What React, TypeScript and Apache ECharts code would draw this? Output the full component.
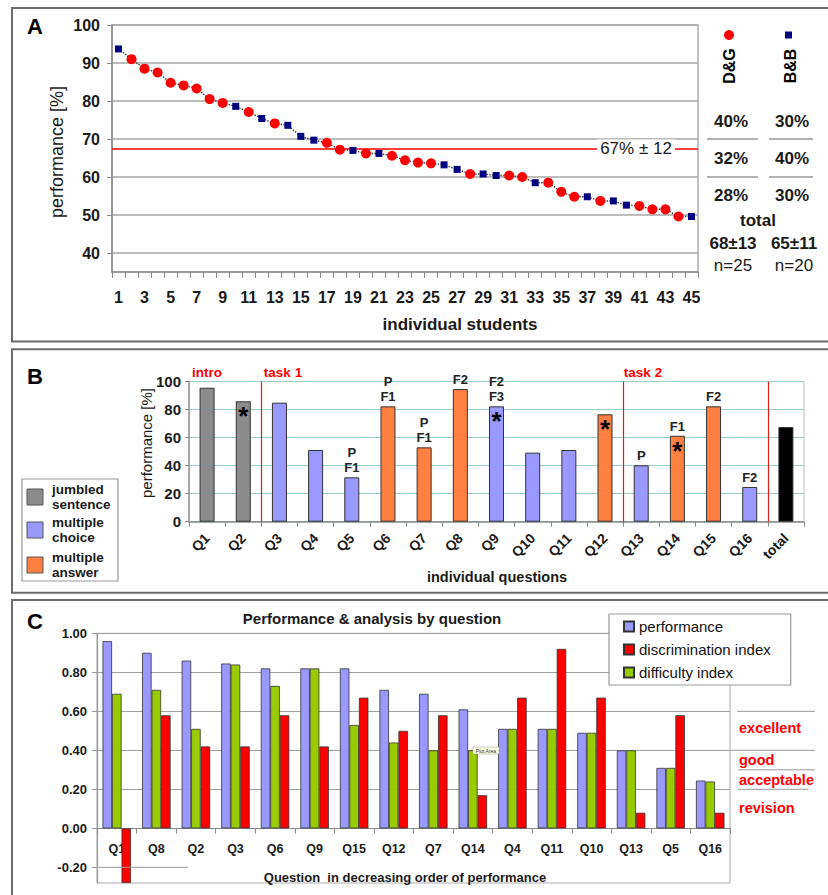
import React, { useEffect, useRef } from 'react';
import * as echarts from 'echarts';

// ---------- Panel A data ----------
const studentScores = [
  93.7, 91.0, 88.5, 87.5, 84.8, 84.1, 83.3, 80.5, 79.5, 78.6, 77.1, 75.4, 74.1, 73.6, 70.7,
  69.7, 69.0, 67.2, 67.0, 66.2, 66.2, 65.6, 64.4, 63.8, 63.6, 63.2, 62.0, 60.8, 60.8, 60.4,
  60.4, 60.0, 58.5, 58.5, 56.1, 54.8, 54.8, 53.7, 53.7, 52.6, 52.4, 51.5, 51.5, 49.6, 49.6,
];
const studentGroup = [
  'B', 'D', 'D', 'D', 'D', 'D', 'D', 'D', 'D', 'B', 'D', 'B', 'D', 'B', 'B',
  'B', 'D', 'D', 'B', 'D', 'B', 'D', 'D', 'D', 'D', 'B', 'B', 'D', 'B', 'B',
  'D', 'D', 'B', 'D', 'D', 'D', 'B', 'D', 'B', 'B', 'D', 'D', 'D', 'D', 'B',
];
const meanScore = 67.5;
const meanLabel = '67% ± 12';
const scoreTicks = [40, 50, 60, 70, 80, 90, 100];
const groupNames = ['D&G', 'B&B'];
const groupShares = [['40%', '30%'], ['32%', '40%'], ['28%', '30%']];
const groupTotals = ['68±13', '65±11'];
const groupCounts = ['n=25', 'n=20'];

// ---------- Panel B data ----------
const questions = ['Q1', 'Q2', 'Q3', 'Q4', 'Q5', 'Q6', 'Q7', 'Q8', 'Q9', 'Q10', 'Q11', 'Q12', 'Q13', 'Q14', 'Q15', 'Q16', 'total'];
const questionPerf = [95.7, 86.0, 85.0, 51.2, 31.7, 82.4, 53.1, 94.8, 82.4, 49.3, 51.2, 76.7, 40.3, 61.4, 82.4, 24.8, 67.6];
const questionType = ['jumbled', 'jumbled', 'choice', 'choice', 'choice', 'answer', 'answer', 'answer', 'choice', 'choice', 'choice', 'answer', 'choice', 'answer', 'answer', 'choice', 'total'];
const questionNotes = ['', '', '', '', 'P\nF1', 'P\nF1', 'P\nF1', 'F2', 'F2\nF3', '', '', '', 'P', 'F1', 'F2', 'F2', ''];
const questionStar = [false, true, false, false, false, false, false, false, true, false, false, true, false, true, false, false, false];
const taskBoundaries = [2, 12, 16];
const taskNames = ['intro', 'task 1', 'task 2'];
const legendBNames = ['jumbled\nsentence', 'multiple\nchoice', 'multiple\nanswer'];

// ---------- Panel C data ----------
const rankedQuestions = ['Q1', 'Q8', 'Q2', 'Q3', 'Q6', 'Q9', 'Q15', 'Q12', 'Q7', 'Q14', 'Q4', 'Q11', 'Q10', 'Q13', 'Q5', 'Q16'];
const performanceIdx = [0.96, 0.90, 0.86, 0.845, 0.82, 0.82, 0.82, 0.71, 0.69, 0.61, 0.51, 0.51, 0.49, 0.40, 0.31, 0.245];
const difficultyIdx = [0.69, 0.71, 0.51, 0.84, 0.73, 0.82, 0.53, 0.44, 0.40, 0.40, 0.51, 0.51, 0.49, 0.40, 0.31, 0.24];
const discriminationIdx = [-0.28, 0.58, 0.42, 0.42, 0.58, 0.42, 0.67, 0.50, 0.58, 0.17, 0.67, 0.92, 0.67, 0.08, 0.58, 0.08];
const indexTicks = [-0.2, 0, 0.2, 0.4, 0.6, 0.8, 1.0];
const indexMin = -0.28;
const ratingLabels = ['excellent', 'good', 'acceptable', 'revision'];
const ratingBounds = [0.6, 0.4, 0.3, 0.2];

// ---------- styling ----------
const FONT = '"Liberation Sans", Arial, Helvetica, sans-serif';
const RED = '#ff0000';
const NAVY = '#000080';
const typeColors: Record<string, string> = { jumbled: '#8c8c8c', choice: '#9999ff', answer: '#ff8040', total: '#000000' };

const GA = { left: 112, top: 25, width: 586, height: 247 };
const GAov = { left: 112, top: 25, width: 586, height: 228 };
const GB = { left: 189, top: 381.7, width: 615, height: 140 };
const GC = { left: 97, top: 633.3, width: 633, height: 249.7 };
const GCov = { left: 97, top: 633.3, width: 633, height: 195 };
const C_UNIT = 195;
const yC = (v: number) => GC.top + (1 - v) * C_UNIT;

function T(x: number, y: number, text: string, size: number, o: any = {}) {
  const align = o.align || 'center';
  return {
    type: 'text', x, y, rotation: o.rotation || 0, z: 100, silent: true,
    style: {
      text, fontSize: size, fontWeight: o.bold ? 'bold' : 'normal', fontFamily: FONT,
      fill: o.color || '#1a1a1a', align, verticalAlign: 'middle', textAlign: align, textVerticalAlign: 'middle',
      lineHeight: o.lineHeight, backgroundColor: o.bg, padding: o.padding,
    },
  };
}
function L(x1: number, y1: number, x2: number, y2: number, color = '#999', w = 1.5) {
  return { type: 'line', z: 90, silent: true, shape: { x1, y1, x2, y2 }, style: { stroke: color, lineWidth: w } };
}
function R(x: number, y: number, w: number, h: number, fill: string, stroke: string, lw = 1, z = 95) {
  return { type: 'rect', z, silent: true, shape: { x, y, width: w, height: h }, style: { fill, stroke, lineWidth: lw } };
}

function buildOption() {
  const graphics: any[] = [];
  // panel boxes
  graphics.push(R(12, 8, 830, 333.5, 'none', '#6b6b6b', 2, 1));
  graphics.push(R(12, 349.3, 830, 243.4, 'none', '#6b6b6b', 2, 1));
  graphics.push(R(12, 600, 830, 320, 'none', '#6b6b6b', 2, 1));
  graphics.push(T(35, 26, 'A', 22, { bold: true, color: '#000' }));
  graphics.push(T(35, 376, 'B', 22, { bold: true, color: '#000' }));
  graphics.push(T(35, 621, 'C', 22, { bold: true, color: '#000' }));

  // Panel A texts
  graphics.push(T(57, 152, 'performance [%]', 18, { rotation: Math.PI / 2 }));
  graphics.push(T(460, 324, 'individual students', 17, { bold: true }));
  graphics.push(T(636, 148, meanLabel, 17, { bg: '#fff', padding: [0, 3] }));
  const colX = [731, 792];
  graphics.push({ type: 'circle', z: 100, shape: { cx: 729, cy: 35, r: 5 }, style: { fill: RED } });
  graphics.push({ type: 'rect', z: 100, shape: { x: 785, y: 31.5, width: 7, height: 7 }, style: { fill: NAVY } });
  groupNames.forEach((g, i) => graphics.push(T(colX[i] - 1.5, 66, g, 16, { bold: true, rotation: Math.PI / 2, color: '#000' })));
  groupShares.forEach((row, r) => {
    row.forEach((s, i) => graphics.push(T(colX[i], 121 + r * 37, s, 17, { bold: true })));
  });
  [139, 177].forEach((y) => {
    graphics.push(L(707, y, 758, y, '#999', 1.5));
    graphics.push(L(769, y, 813, y, '#999', 1.5));
  });
  graphics.push(T(758, 220, 'total', 17, { bold: true }));
  groupTotals.forEach((s, i) => graphics.push(T(colX[i] + 2, 243, s, 17, { bold: true })));
  groupCounts.forEach((s, i) => graphics.push(T(colX[i] + 2, 265, s, 17)));

  // Panel B texts
  const taskX = [207, 283, 643];
  taskNames.forEach((n, i) => graphics.push(T(taskX[i], 372, n, 13.5, { bold: true, color: RED })));
  graphics.push(T(146, 443, 'performance [%]', 15, { rotation: Math.PI / 2 }));
  graphics.push(T(497, 577, 'individual questions', 14.5, { bold: true }));
  graphics.push(L(804, 381.7, 804, 521.7, '#bbb', 1));
  graphics.push(R(22, 479, 96, 102, '#fff', '#999', 1.2, 80));
  const legendColors = [typeColors.jumbled, typeColors.choice, typeColors.answer];
  const legendY = [497, 530, 565];
  legendBNames.forEach((n, i) => {
    graphics.push(R(27, legendY[i] - 8, 16, 16, legendColors[i], '#555', 1));
    graphics.push(T(52, legendY[i], n, 13.5, { bold: true, align: 'left', lineHeight: 14.5 }));
  });

  // Panel C texts
  graphics.push(T(372, 618, 'Performance & analysis by question', 15, { bold: true }));
  graphics.push(T(405, 877, 'Question  in decreasing order of performance', 13, { bold: true }));
  const ratingY = [728, 760, 780, 808];
  ratingLabels.forEach((r, i) => graphics.push(T(739, ratingY[i], r, 14.5, { bold: true, color: RED, align: 'left' })));
  graphics.push(L(737, yC(ratingBounds[0]), 815, yC(ratingBounds[0]), '#999', 1));
  graphics.push(L(730, yC(ratingBounds[1]), 815, yC(ratingBounds[1]), '#999', 1));
  graphics.push(L(738, yC(ratingBounds[2]), 815, yC(ratingBounds[2]), '#999', 1));
  graphics.push(L(738, yC(ratingBounds[3]), 808, yC(ratingBounds[3]), '#999', 1));
  graphics.push(L(97, yC(-0.2), 188, yC(-0.2), '#999', 1));
  graphics.push(R(473, 747, 26, 7, '#ffffe1', '#999', 0.5, 100));
  graphics.push(T(486, 750.6, 'Plot Area', 5, { color: '#333' }));

  const axisLineGray = { show: true, lineStyle: { color: '#888', width: 1.5 } };
  const labelBase = { fontFamily: FONT, color: '#1a1a1a', fontWeight: 'bold' };

  return {
    animation: false,
    backgroundColor: '#fff',
    textStyle: { fontFamily: FONT },
    graphic: { elements: graphics },
    legend: {
      data: ['performance', 'discrimination index', 'difficulty index'],
      left: 609, top: 614, orient: 'vertical', icon: 'rect',
      itemWidth: 10, itemHeight: 10, itemGap: 8,
      padding: [5, 20, 5, 14],
      borderColor: '#999', borderWidth: 1.2, backgroundColor: '#fff',
      textStyle: { fontSize: 15, color: '#111', fontFamily: FONT },
      selectedMode: false, z: 20,
    },
    grid: [
      { ...GA, show: true, borderColor: '#999', borderWidth: 1.2, outerBoundsMode: 'none', containLabel: false },
      { ...GB, outerBoundsMode: 'none', containLabel: false },
      { ...GC, show: true, borderColor: '#aaa', borderWidth: 1, outerBoundsMode: 'none', containLabel: false },
      { ...GCov, outerBoundsMode: 'none', containLabel: false },
      { ...GAov, outerBoundsMode: 'none', containLabel: false },
    ],
    xAxis: [
      {
        type: 'category', gridIndex: 0, data: studentScores.map((_, i) => String(i + 1)), boundaryGap: true,
        axisLine: axisLineGray,
        axisTick: { show: true, interval: 0, length: 6, lineStyle: { color: '#888' } },
        axisLabel: { ...labelBase, interval: 1, fontSize: 16, margin: 17 },
      },
      {
        type: 'category', gridIndex: 1, data: questions,
        axisLine: axisLineGray,
        axisTick: { show: true, interval: 0, length: 5, lineStyle: { color: '#888' } },
        axisLabel: { ...labelBase, interval: 0, rotate: 45, fontSize: 14, margin: 14 },
      },
      {
        type: 'category', gridIndex: 2, data: rankedQuestions, position: 'bottom',
        offset: indexMin * C_UNIT,
        axisLine: { show: true, onZero: false, lineStyle: { color: '#888', width: 1.2 } },
        axisTick: { show: true, interval: 0, length: 5, lineStyle: { color: '#888' } },
        axisLabel: { ...labelBase, interval: 0, fontSize: 12.5, margin: 14 },
      },
      { type: 'value', gridIndex: 1, min: 0, max: questions.length, show: false },
      { type: 'value', gridIndex: 3, min: 0, max: 1, show: false },
      { type: 'value', gridIndex: 4, min: 0, max: 1, show: false },
    ],
    yAxis: [
      {
        type: 'value', gridIndex: 0, min: 35, max: 100,
        axisLine: axisLineGray,
        axisTick: { show: true, customValues: scoreTicks, length: 5, lineStyle: { color: '#888' } },
        axisLabel: { ...labelBase, customValues: scoreTicks, fontSize: 16, margin: 12 },
        splitLine: { show: false },
      },
      {
        type: 'value', gridIndex: 1, min: 0, max: 100, interval: 20,
        axisLine: axisLineGray,
        axisTick: { show: true, length: 4, lineStyle: { color: '#888' } },
        axisLabel: { ...labelBase, fontSize: 15, margin: 8 },
        splitLine: { show: true, lineStyle: { color: '#99cccc', width: 1.2 } },
      },
      {
        type: 'value', gridIndex: 2, min: indexMin, max: 1.0,
        axisLine: { show: true, lineStyle: { color: '#999', width: 1.2 } },
        axisTick: { show: true, customValues: indexTicks, length: 5, lineStyle: { color: '#999' } },
        axisLabel: { ...labelBase, customValues: indexTicks, fontSize: 13, margin: 10, formatter: (v: number) => v.toFixed(2) },
        splitLine: { show: false },
      },
      {
        type: 'value', gridIndex: 3, min: 0, max: 1, interval: 0.2,
        axisLine: { show: false }, axisTick: { show: false }, axisLabel: { show: false },
        splitLine: { show: true, lineStyle: { color: '#a0a0a0', width: 1 } },
      },
      {
        type: 'value', gridIndex: 4, min: 40, max: 100, interval: 10,
        axisLine: { show: false }, axisTick: { show: false }, axisLabel: { show: false },
        splitLine: { show: true, lineStyle: { color: '#a6a6a6', width: 1.5 } },
      },
    ],
    series: [
      {
        name: 'students', type: 'line', xAxisIndex: 0, yAxisIndex: 0,
        showSymbol: true, showAllSymbol: true, z: 5,
        lineStyle: { color: '#333', width: 1.4, type: 'dotted' },
        data: studentScores.map((v, i) => (studentGroup[i] === 'D'
          ? { value: v, symbol: 'circle', symbolSize: 10, itemStyle: { color: RED } }
          : { value: v, symbol: 'rect', symbolSize: 7, itemStyle: { color: NAVY } })),
        markLine: {
          silent: true, symbol: ['none', 'none'], label: { show: false },
          lineStyle: { color: RED, width: 1.5, type: 'solid' },
          data: [{ yAxis: meanScore }],
        },
      },
      {
        name: 'question performance', type: 'bar', xAxisIndex: 1, yAxisIndex: 1,
        barWidth: 15, barGap: '-100%',
        data: questionPerf.map((v, i) => ({ value: v, itemStyle: { color: typeColors[questionType[i]], borderColor: '#333', borderWidth: 1 } })),
        label: {
          show: true, position: 'top', distance: 2, fontSize: 13, fontWeight: 'bold', lineHeight: 15, color: '#222', fontFamily: FONT,
          formatter: (p: any) => questionNotes[p.dataIndex],
        },
      },
      {
        name: 'stars', type: 'bar', xAxisIndex: 1, yAxisIndex: 1, silent: true,
        barWidth: 15, barGap: '-100%', z: 6,
        data: questionPerf,
        itemStyle: { color: 'rgba(0,0,0,0)', borderWidth: 0 },
        label: {
          show: true, position: 'insideTop', distance: 2, fontSize: 26, fontWeight: 'bold', color: '#000', fontFamily: FONT,
          formatter: (p: any) => (questionStar[p.dataIndex] ? '*' : ''),
        },
      },
      {
        name: 'tasks', type: 'line', xAxisIndex: 3, yAxisIndex: 1, silent: true,
        data: [[0, 0]], symbol: 'none', lineStyle: { width: 0, opacity: 0 },
        markLine: {
          silent: true, symbol: ['none', 'none'], label: { show: false },
          lineStyle: { color: '#e31a1a', width: 1.2, type: 'solid' },
          data: taskBoundaries.map((b) => ({ xAxis: b })),
        },
      },
      {
        name: 'performance', type: 'bar', xAxisIndex: 2, yAxisIndex: 2, barWidth: 9.5, barGap: '0%',
        data: performanceIdx, itemStyle: { color: '#9999ff', borderColor: '#333', borderWidth: 0.8 },
      },
      {
        name: 'difficulty index', type: 'bar', xAxisIndex: 2, yAxisIndex: 2, barWidth: 9.5, barGap: '0%',
        data: difficultyIdx, itemStyle: { color: '#99cc00', borderColor: '#333', borderWidth: 0.8 },
      },
      {
        name: 'discrimination index', type: 'bar', xAxisIndex: 2, yAxisIndex: 2, barWidth: 9.5, barGap: '0%',
        data: discriminationIdx, itemStyle: { color: '#ff0000', borderColor: '#333', borderWidth: 0.8 },
      },
    ],
  };
}

export default function App() {
  const ref = useRef<HTMLDivElement>(null);
  useEffect(() => {
    if (!ref.current) return;
    const chart = echarts.init(ref.current, null, { renderer: 'svg' });
    chart.setOption(buildOption() as any);
    return () => chart.dispose();
  }, []);
  return (
    <div
      ref={ref}
      style={{ position: 'absolute', left: 0, top: 0, width: 828, height: 895, background: '#fff' }}
    />
  );
}
